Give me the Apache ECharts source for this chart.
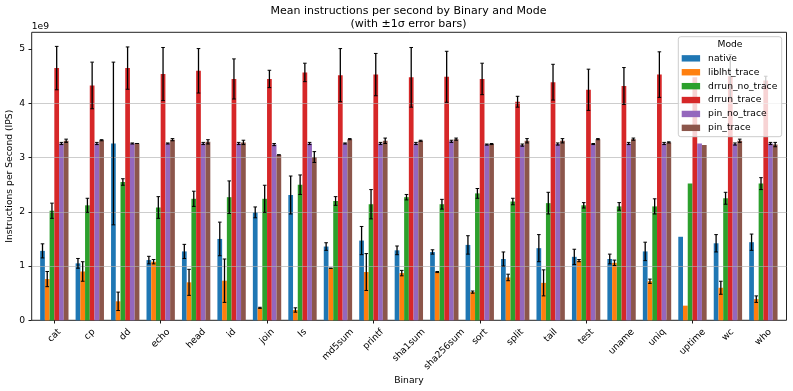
<!DOCTYPE html>
<html>
<head>
<meta charset="utf-8">
<script src="https://cdn.jsdelivr.net/npm/echarts@6/dist/echarts.min.js"></script>
<style>
  html, body { margin: 0; padding: 0; background: #fff; }
  #chart { width: 793px; height: 391px; }
</style>
</head>
<body>
<div id="chart"></div>
<script>
// values are in units of 1e9 instructions per second
const categories = ['cat', 'cp', 'dd', 'echo', 'head', 'id', 'join', 'ls', 'md5sum', 'printf',
  'sha1sum', 'sha256sum', 'sort', 'split', 'tail', 'test', 'uname', 'uniq', 'uptime', 'wc', 'who'];

const seriesNames = ['native', 'liblht_trace', 'drrun_no_trace', 'drrun_trace', 'pin_no_trace', 'pin_trace'];
const colors = ['#1f77b4', '#ff7f0e', '#2ca02c', '#d62728', '#9467bd', '#8c564b'];

const nativeMean = [1.28, 1.05, 3.26, 1.11, 1.27, 1.50, 1.99, 2.31, 1.36, 1.47, 1.29, 1.26, 1.39, 1.13, 1.33, 1.17, 1.13, 1.27, 1.54, 1.42, 1.44];
const nativeErr = [0.13, 0.09, 1.50, 0.07, 0.13, 0.31, 0.10, 0.35, 0.07, 0.26, 0.08, 0.04, 0.17, 0.13, 0.25, 0.14, 0.09, 0.17, null, 0.16, 0.15];

const liblhtMean = [0.76, 0.90, 0.35, 1.08, 0.70, 0.73, 0.23, 0.19, 0.96, 0.89, 0.87, 0.89, 0.52, 0.79, 0.69, 1.10, 1.06, 0.72, 0.27, 0.60, 0.39];
const liblhtErr = [0.14, 0.18, 0.17, 0.04, 0.24, 0.40, 0.01, 0.04, 0.00, 0.34, 0.05, 0.01, 0.02, 0.06, 0.24, 0.02, 0.05, 0.04, null, 0.12, 0.06];

const drrunNoTraceMean = [2.02, 2.12, 2.55, 2.08, 2.24, 2.27, 2.24, 2.50, 2.20, 2.14, 2.27, 2.14, 2.34, 2.19, 2.16, 2.12, 2.10, 2.10, 2.52, 2.25, 2.52];
const drrunNoTraceErr = [0.14, 0.13, 0.06, 0.20, 0.14, 0.30, 0.25, 0.18, 0.08, 0.27, 0.05, 0.09, 0.09, 0.06, 0.20, 0.05, 0.07, 0.14, null, 0.11, 0.11];

const drrunTraceMean = [4.65, 4.33, 4.65, 4.54, 4.60, 4.45, 4.45, 4.57, 4.52, 4.53, 4.48, 4.49, 4.45, 4.03, 4.39, 4.25, 4.32, 4.53, 4.48, 4.50, 4.42];
const drrunTraceErr = [0.40, 0.43, 0.39, 0.49, 0.41, 0.37, 0.16, 0.17, 0.49, 0.39, 0.55, 0.47, 0.29, 0.10, 0.33, 0.38, 0.34, 0.42, null, 0.40, 0.08];

const pinNoTraceMean = [3.26, 3.26, 3.26, 3.26, 3.26, 3.26, 3.24, 3.26, 3.26, 3.26, 3.26, 3.30, 3.24, 3.23, 3.25, 3.25, 3.26, 3.26, 3.26, 3.25, 3.26];
const pinNoTraceErr = [0.02, 0.02, 0.01, 0.01, 0.02, 0.02, 0.02, 0.02, 0.01, 0.02, 0.02, 0.02, 0.01, 0.02, 0.02, 0.01, 0.02, 0.02, null, 0.02, 0.02];

const pinTraceMean = [3.31, 3.32, 3.26, 3.33, 3.29, 3.28, 3.05, 3.01, 3.34, 3.31, 3.31, 3.34, 3.25, 3.31, 3.31, 3.34, 3.34, 3.28, 3.23, 3.31, 3.24];
const pinTraceErr = [0.03, 0.01, 0.00, 0.02, 0.04, 0.04, 0.00, 0.10, 0.01, 0.05, 0.01, 0.02, 0.01, 0.04, 0.04, 0.01, 0.02, 0.01, null, 0.03, 0.04];

const yTicks = [0, 1, 2, 3, 4, 5];

const means = [nativeMean, liblhtMean, drrunNoTraceMean, drrunTraceMean, pinNoTraceMean, pinTraceMean];
const errs = [nativeErr, liblhtErr, drrunNoTraceErr, drrunTraceErr, pinNoTraceErr, pinTraceErr];

const FONT = '"DejaVu Sans", sans-serif';
const FS = 9.2;
const Y_MAX = 5.31;
const GROUP = 0.8;

// text width for placing the rotated tick labels like matplotlib (ha=center)
const measureCtx = document.createElement('canvas').getContext('2d');
measureCtx.font = FS + 'px ' + FONT;

function renderErrorBar(params, api) {
  const i = api.value(0), m = api.value(1), e = api.value(2), s = api.value(3);
  const bw = api.size([1, 0])[0] * GROUP / seriesNames.length;
  const x = api.coord([i, 0])[0] + (s - (seriesNames.length - 1) / 2) * bw;
  const yTop = api.coord([i, m + e])[1];
  const yBot = api.coord([i, m - e])[1];
  const cap = 1.8;
  const style = { stroke: '#000', lineWidth: 1.3 };
  return {
    type: 'group',
    children: [
      { type: 'line', shape: { x1: x, y1: yTop, x2: x, y2: yBot }, style: style },
      { type: 'line', shape: { x1: x - cap, y1: yTop, x2: x + cap, y2: yTop }, style: { stroke: '#000', lineWidth: 1 } },
      { type: 'line', shape: { x1: x - cap, y1: yBot, x2: x + cap, y2: yBot }, style: { stroke: '#000', lineWidth: 1 } }
    ]
  };
}

function renderTickLabel(params, api) {
  const i = api.value(0);
  const p = api.coord([i, 0]);
  const txt = categories[i];
  const w = measureCtx.measureText(txt).width;
  const h = FS * 1.17;
  return {
    type: 'text',
    x: p[0] + 0.354 * w,
    y: p[1] + 6.4 + 0.354 * h,
    rotation: Math.PI / 4,
    style: { text: txt, font: FS + 'px ' + FONT, fill: '#000', align: 'right', verticalAlign: 'middle' }
  };
}

function getOptions() {
  const barSeries = seriesNames.map(function (name, s) {
    return {
      name: name,
      type: 'bar',
      xAxisIndex: 0,
      yAxisIndex: 0,
      data: means[s],
      barGap: '0%',
      barCategoryGap: ((1 - GROUP) * 100) + '%',
      itemStyle: { color: colors[s] },
      z: 2
    };
  });

  const errData = [];
  errs.forEach(function (arr, s) {
    arr.forEach(function (e, i) {
      if (e !== null) errData.push([i, means[s][i], e, s]);
    });
  });

  return {
    animation: false,
    backgroundColor: '#fff',
    textStyle: { fontFamily: FONT },
    grid: [
      // data grid: category bands match matplotlib's x spacing
      { left: 36.6, right: 11.9, top: 32.3, bottom: 70.7, containLabel: false, outerBoundsMode: 'none' },
      // frame + gridlines + y ticks (the axes box)
      { left: 31.7, right: 6.5, top: 32.3, bottom: 70.7, containLabel: false, outerBoundsMode: 'none',
        show: true, borderColor: '#222', borderWidth: 1, backgroundColor: 'transparent' }
    ],
    xAxis: [
      {
        type: 'category', gridIndex: 0, data: categories,
        axisLine: { show: false },
        axisTick: { show: true, alignWithLabel: true, length: 3.2, lineStyle: { color: '#000', width: 0.9 } },
        axisLabel: { show: false },
        splitLine: { show: false }
      },
      { type: 'value', gridIndex: 1, min: 0, max: 1, show: false }
    ],
    yAxis: [
      { type: 'value', gridIndex: 0, min: 0, max: Y_MAX, show: false },
      {
        type: 'value', gridIndex: 1, min: 0, max: Y_MAX, interval: 1, z: 3,
        axisLine: { show: false },
        axisTick: { show: true, length: 3.2, lineStyle: { color: '#000', width: 0.9 },
          customValues: yTicks },
        axisLabel: { color: '#000', fontSize: FS, fontFamily: FONT, margin: 6.5,
          customValues: yTicks,
          formatter: function (v) { return yTicks.indexOf(v) >= 0 ? String(v) : ''; } },
        splitLine: { show: true, showMinLine: false, showMaxLine: false,
          lineStyle: { color: 'rgba(176,176,176,0.7)', width: 0.9 } }
      }
    ],
    legend: {
      data: seriesNames,
      orient: 'vertical',
      left: 681.7,
      top: 51.4,
      padding: 0,
      itemGap: 0,
      itemWidth: 18.4,
      itemHeight: 6.4,
      icon: 'rect',
      selectedMode: false,
      z: 11,
      textStyle: { color: '#000', fontSize: FS, fontFamily: FONT, lineHeight: 13.9, padding: [0, 0, 0, 3] }
    },
    graphic: [
      { type: 'text', x: 408.5, y: 17.5, z: 20,
        style: { text: 'Mean instructions per second by Binary and Mode\n(with \u00b11\u03c3 error bars)',
          font: '11px ' + FONT, fill: '#000', align: 'center', verticalAlign: 'middle', lineHeight: 13 } },
      { type: 'text', x: 31.7, y: 26.5, z: 20,
        style: { text: '1e9', font: FS + 'px ' + FONT, fill: '#000', align: 'left', verticalAlign: 'middle' } },
      { type: 'text', x: 9.5, y: 176.3, rotation: Math.PI / 2, z: 20,
        style: { text: 'Instructions per Second (IPS)', font: FS + 'px ' + FONT, fill: '#000',
          align: 'center', verticalAlign: 'middle' } },
      { type: 'text', x: 409, y: 381, z: 20,
        style: { text: 'Binary', font: FS + 'px ' + FONT, fill: '#000', align: 'center', verticalAlign: 'middle' } },
      // legend frame
      { type: 'rect', z: 10, shape: { x: 678.3, y: 36.7, width: 103.4, height: 100, r: 2.5 },
        style: { fill: 'rgba(255,255,255,0.8)', stroke: '#cccccc', lineWidth: 1 } },
      { type: 'text', x: 730, y: 45, z: 12,
        style: { text: 'Mode', font: FS + 'px ' + FONT, fill: '#000', align: 'center', verticalAlign: 'middle' } }
    ],
    series: barSeries.concat([
      {
        type: 'custom', xAxisIndex: 0, yAxisIndex: 0, z: 4, silent: true, clip: false,
        encode: { x: 0, y: 1 },
        data: errData,
        renderItem: renderErrorBar
      },
      {
        type: 'custom', xAxisIndex: 0, yAxisIndex: 0, z: 4, silent: true, clip: false,
        encode: { x: 0, y: 1 },
        data: categories.map(function (c, i) { return [i, 0]; }),
        renderItem: renderTickLabel
      }
    ])
  };
}

const chart = echarts.init(document.getElementById('chart'), null, { renderer: 'canvas' });
chart.setOption(getOptions());
</script>
</body>
</html>
